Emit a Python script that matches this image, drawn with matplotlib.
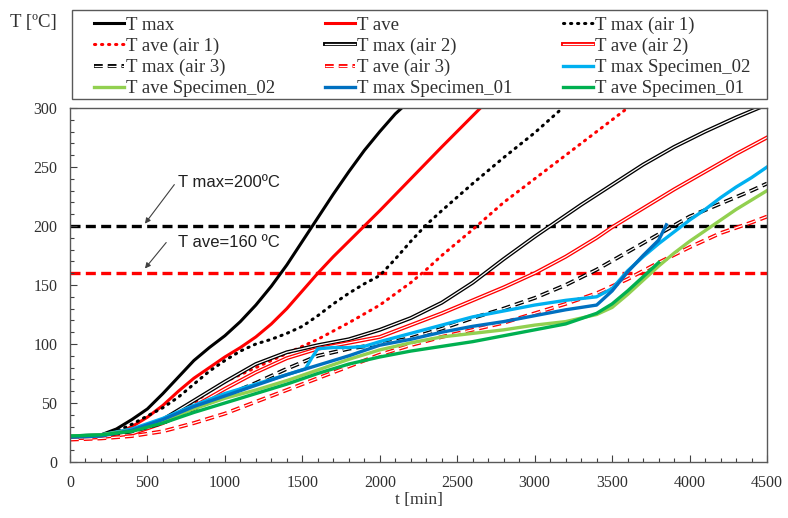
import numpy as np
import matplotlib.pyplot as plt
import matplotlib.patheffects as pe
from matplotlib.patches import Rectangle
from matplotlib.ticker import MultipleLocator

plt.rcParams['font.family'] = 'Liberation Serif'
plt.rcParams['mathtext.fontset'] = 'stix'

# ---------------- data (t in min, T in ºC) ----------------
t_max = [0, 200, 300, 400, 500, 600, 700, 800, 900, 1000, 1100, 1200, 1300, 1400, 1500, 1600, 1700, 1800, 1900, 2000, 2100, 2150]
T_max = [22, 23, 28, 36, 45, 58, 72, 86, 97, 107, 119, 133, 149, 167, 187, 207, 227, 246, 264, 280, 295, 301]

t_ave = [0, 200, 300, 400, 500, 600, 700, 800, 900, 1000, 1100, 1200, 1300, 1400, 1500, 1600, 1700, 1800, 1900, 2000, 2200, 2400, 2650]
T_ave = [20, 21, 24, 30, 38, 48, 60, 71, 80, 89, 97, 106, 117, 130, 145, 160, 174, 187, 200, 213, 240, 267, 300]

t_max_a1 = [0, 200, 300, 400, 500, 600, 700, 800, 900, 1000, 1100, 1200, 1300, 1400, 1500, 1600, 1700, 1800, 1900, 2000, 2100, 2200, 2300, 2400, 2600, 2800, 3000, 3180]
T_max_a1 = [21, 22, 26, 32, 39, 46, 55, 66, 77, 86, 94, 100, 104, 109, 115, 124, 134, 143, 151, 158, 172, 187, 201, 213, 236, 258, 279, 300]

t_ave_a1 = [0, 200, 400, 600, 800, 900, 1000, 1200, 1400, 1600, 1800, 2000, 2200, 2300, 2400, 2600, 2800, 3000, 3200, 3400, 3600]
T_ave_a1 = [20, 21, 25, 35, 50, 60, 68, 80, 92, 104, 118, 133, 152, 163, 175, 197, 220, 240, 260, 280, 300]

t_max_a2 = [0, 200, 400, 600, 800, 1000, 1200, 1400, 1600, 1800, 2000, 2200, 2400, 2600, 2700, 2800, 3000, 3100, 3300, 3500, 3700, 3900, 4100, 4300, 4500]
T_max_a2 = [21, 22, 26, 36, 52, 68, 83, 93, 99, 104, 112, 122, 135, 152, 162, 172, 191, 200, 218, 235, 252, 267, 280, 292, 303]

t_ave_a2 = [0, 200, 400, 600, 800, 1000, 1200, 1400, 1600, 1800, 2000, 2200, 2400, 2600, 2800, 3000, 3200, 3400, 3500, 3700, 3900, 4100, 4300, 4500]
T_ave_a2 = [20, 21, 24, 33, 47, 62, 76, 88, 96, 101, 106, 116, 126, 137, 148, 160, 174, 190, 199, 215, 231, 246, 261, 275]

t_max_a3 = [0, 200, 400, 600, 800, 1000, 1200, 1400, 1600, 1800, 2000, 2200, 2400, 2600, 2800, 3000, 3200, 3400, 3600, 3800, 4000, 4200, 4400, 4500]
T_max_a3 = [21, 22, 26, 33, 45, 56, 67, 79, 90, 96, 100, 105, 113, 122, 130, 139, 150, 163, 178, 193, 208, 219, 230, 236]

t_ave_a3 = [0, 200, 400, 600, 800, 1000, 1200, 1400, 1600, 1800, 2000, 2200, 2400, 2600, 2800, 3000, 3200, 3400, 3600, 3800, 4000, 4200, 4400, 4500]
T_ave_a3 = [19, 20, 22, 26, 33, 41, 51, 61, 71, 81, 91, 99, 106, 112, 118, 126, 134, 143, 155, 169, 182, 194, 203, 208]

t_max_s2 = [0, 200, 400, 600, 800, 1000, 1200, 1400, 1520, 1560, 1600, 1700, 1800, 1900, 2000, 2200, 2400, 2600, 2800, 3000, 3200, 3400, 3500, 3600, 3700, 3800, 3900, 4000, 4100, 4200, 4300, 4400, 4500]
T_max_s2 = [22, 23, 28, 37, 48, 58, 66, 74, 79, 88, 96, 97, 97, 98, 102, 109, 116, 123, 128, 133, 137, 140, 147, 162, 174, 185, 195, 205, 214, 224, 233, 241, 250]

t_ave_s2 = [0, 200, 400, 600, 800, 1000, 1200, 1400, 1600, 1800, 2000, 2200, 2400, 2600, 2800, 3000, 3200, 3400, 3500, 3600, 3700, 3800, 3900, 4000, 4100, 4200, 4300, 4400, 4500]
T_ave_s2 = [22, 23, 27, 35, 45, 54, 61, 69, 78, 87, 95, 101, 106, 109, 112, 116, 119, 125, 131, 142, 154, 166, 177, 187, 196, 205, 214, 222, 230]

t_max_s1 = [0, 200, 400, 600, 800, 1000, 1200, 1400, 1600, 1800, 2000, 2200, 2400, 2600, 2800, 3000, 3200, 3400, 3500, 3600, 3700, 3800, 3850]
T_max_s1 = [21, 22, 27, 36, 47, 56, 65, 74, 82, 90, 99, 104, 110, 115, 119, 124, 129, 133, 145, 161, 175, 188, 201]

t_ave_s1 = [0, 200, 400, 600, 800, 1000, 1200, 1400, 1600, 1800, 2000, 2200, 2400, 2600, 2800, 3000, 3200, 3400, 3500, 3600, 3700, 3800]
T_ave_s1 = [22, 23, 26, 33, 42, 50, 58, 66, 75, 83, 89, 94, 98, 102, 107, 112, 117, 126, 134, 145, 157, 169]

T_lim_max = 200
T_lim_ave = 160

# ---------------- plot ----------------
fig = plt.figure(figsize=(7.88, 5.18), dpi=100)
ax = fig.add_axes([0.0888, 0.1081, 0.8846, 0.6834])

ax.axhline(T_lim_max, color='k', lw=2.4, dashes=(3.0, 1.6), zorder=1)
ax.axhline(T_lim_ave, color='red', lw=2.4, dashes=(3.0, 1.6), zorder=1)

def double(color):
    return [pe.Stroke(linewidth=2.8, foreground=color), pe.Normal()]

ax.plot(t_max, T_max, color='k', lw=2.2, label='T max')
ax.plot(t_ave, T_ave, color='red', lw=2.2, label='T ave')
ax.plot(t_max_a1, T_max_a1, color='k', lw=2.2, dashes=(0.4, 1.9), dash_capstyle='round', label='T max (air 1)')
ax.plot(t_ave_a1, T_ave_a1, color='red', lw=2.2, dashes=(0.4, 1.9), dash_capstyle='round', label='T ave (air 1)')
ax.plot(t_max_a2, T_max_a2, color='white', lw=0.9, path_effects=double('k'), label='T max (air 2)')
ax.plot(t_ave_a2, T_ave_a2, color='white', lw=0.9, path_effects=double('red'), label='T ave (air 2)')
ax.plot(t_max_a3, T_max_a3, color='white', lw=0.9, dashes=(7, 4), path_effects=double('k'), label='T max (air 3)')
ax.plot(t_ave_a3, T_ave_a3, color='white', lw=0.9, dashes=(7, 4), path_effects=double('red'), label='T ave (air 3)')
ax.plot(t_max_s2, T_max_s2, color='#00B0F0', lw=2.4, label='T max Specimen_02')
ax.plot(t_ave_s2, T_ave_s2, color='#92D050', lw=2.4, label='T ave Specimen_02')
ax.plot(t_max_s1, T_max_s1, color='#0070C0', lw=2.4, label='T max Specimen_01')
ax.plot(t_ave_s1, T_ave_s1, color='#00B050', lw=2.4, label='T ave Specimen_01')

ax.set_xlim(0, 4500)
ax.set_ylim(0, 300)
ax.xaxis.set_major_locator(MultipleLocator(500))
ax.xaxis.set_minor_locator(MultipleLocator(100))
ax.yaxis.set_major_locator(MultipleLocator(50))
ax.yaxis.set_minor_locator(MultipleLocator(10))
ax.tick_params(which='both', direction='in', labelsize=11.5, colors='#404040', labelcolor='#303030')
ax.tick_params(which='major', length=5, width=0.8, pad=9)
ax.tick_params(which='minor', length=3, width=0.8)
for s in ax.spines.values():
    s.set_color('#595959')
    s.set_linewidth(1.0)

ax.set_xlabel('t [min]', fontsize=12.5, color='#303030', labelpad=1)
fig.text(0.013, 0.957, 'T [ºC]', fontsize=13.5, color='#303030', ha='left', va='center')

# threshold annotations
arrow = dict(arrowstyle='-|>', mutation_scale=8, color='#404040', lw=0.8, shrinkA=0, shrinkB=0)
ax.annotate('T max=200ºC', xy=(484, 202), xytext=(700, 237), fontsize=12,
            family='Liberation Sans', color='#202020', va='center',
            arrowprops=dict(arrow, relpos=(-0.04, 0.35)))
ax.annotate('T ave=160 ºC', xy=(484, 164), xytext=(700, 186), fontsize=12,
            family='Liberation Sans', color='#202020', va='center',
            arrowprops=dict(arrow, relpos=(-0.12, 0.5)))

# legend: 4 rows x 3 columns read row by row, box drawn separately
h, l = ax.get_legend_handles_labels()
order = [0, 3, 6, 9, 1, 4, 7, 10, 2, 5, 8, 11]
leg = fig.legend([h[i] for i in order], [l[i] for i in order], ncol=3,
                 loc='upper left', bbox_to_anchor=(88 / 788, 0.979, 668 / 788, 0.0),
                 mode='expand', borderaxespad=0, fontsize=13.5, frameon=False,
                 handlelength=1.6, handletextpad=0.1,
                 labelspacing=0.21, borderpad=0.3)
for txt in leg.get_texts():
    txt.set_color('#303030')
fig.patches.append(Rectangle((72 / 788, 1 - 99 / 518), 695 / 788, 89 / 518,
                             transform=fig.transFigure, fill=False,
                             edgecolor='#595959', lw=1.0))

fig.savefig('out.png', dpi=100)
